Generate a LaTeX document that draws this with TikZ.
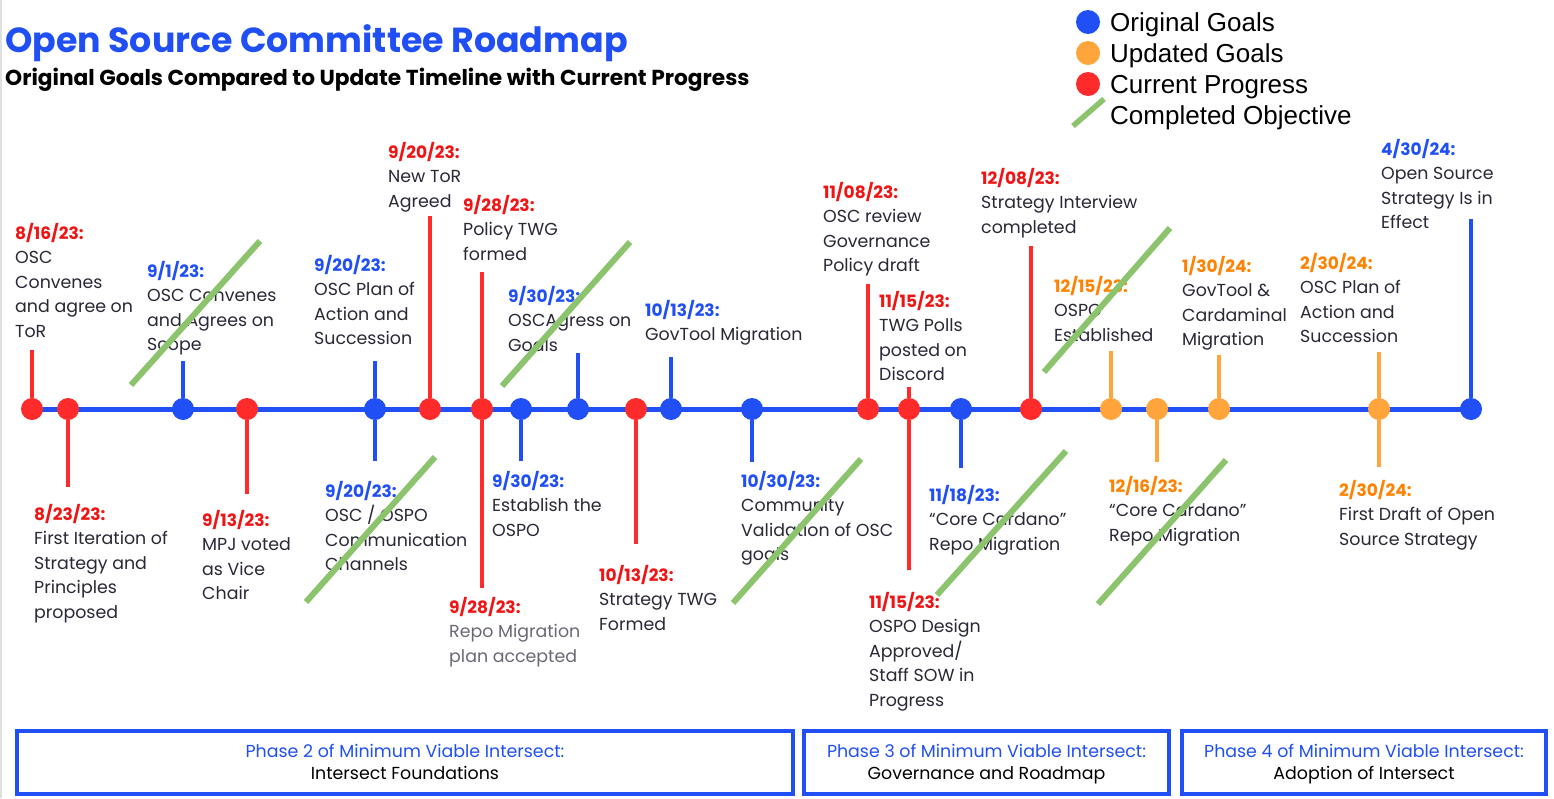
\documentclass[tikz,border=0pt]{standalone}
\usepackage{fontspec}
\setmainfont{Poppins}
\newfontfamily\legendfont{Liberation Sans}
\usetikzlibrary{positioning}

\definecolor{tlblue}{RGB}{32,80,245}
\definecolor{tlred}{RGB}{255,42,42}
\definecolor{dtred}{RGB}{240,20,20}
\definecolor{tlorange}{RGB}{255,165,60}
\definecolor{dtorange}{RGB}{255,130,0}
\definecolor{donegreen}{RGB}{140,196,110}
\definecolor{bodytext}{RGB}{40,40,55}
\definecolor{greytext}{RGB}{105,105,118}

\newcommand{\datefont}{\fontsize{17}{24.5}\selectfont\bfseries}
\newcommand{\bodyfont}{\fontsize{17.4}{24.5}\selectfont}

\begin{document}
\begin{tikzpicture}[x=1pt,y=-1pt,
    dot/.style={circle, minimum size=22pt, inner sep=0pt},
    stem/.style={line width=4.5pt},
    timeline/.style={line width=5pt, tlblue},
    strike/.style={line width=6pt, donegreen},
    evt/.style={anchor=north west, inner sep=0pt, yshift=2pt, align=left, font=\bodyfont, text=bodytext},
    phasebox/.style={draw=tlblue, line width=4pt, inner sep=0pt, minimum height=63pt, align=center, font=\fontsize{17.4}{22}\selectfont}]

    \useasboundingbox[fill=white] (0,0) rectangle (1554,798);
    \draw[black!12, line width=2pt] (1,0) -- (1,798);

    \node[anchor=base west, inner sep=0pt, text=tlblue, font=\fontsize{34.8}{40}\selectfont\bfseries] (title) at (5,52) {Open Source Committee Roadmap};
    \node[anchor=base west, inner sep=0pt, font=\fontsize{21.7}{24}\selectfont\bfseries] (subtitle) at (5,85) {Original Goals Compared to Update Timeline with Current Progress};

    \node[dot, fill=tlblue, minimum size=24pt] (lgorig) at (1088,22) {};
    \node[dot, fill=tlorange, minimum size=24pt] (lgupd) at (1088,53) {};
    \node[dot, fill=tlred, minimum size=24pt] (lgcur) at (1088,84) {};
    \coordinate (lgA) at (1073,126);
    \coordinate (lgB) at (1104,99);
    \draw[strike, line width=5.5pt] (lgA) -- (lgB);
    \node[anchor=base west, inner sep=0pt, font=\legendfont\fontsize{26}{30}\selectfont] (lgtorig) at (1110,31.5) {Original Goals};
    \node[anchor=base west, inner sep=0pt, font=\legendfont\fontsize{26}{30}\selectfont] (lgtupd) at (1110,62.5) {Updated Goals};
    \node[anchor=base west, inner sep=0pt, font=\legendfont\fontsize{26}{30}\selectfont] (lgtcur) at (1110,93) {Current Progress};
    \node[anchor=base west, inner sep=0pt, font=\legendfont\fontsize{26}{30}\selectfont] (lgtdone) at (1110,124) {Completed Objective};

    \coordinate (tlL) at (32,409);
    \coordinate (tlR) at (1471,409);
    \draw[timeline] (tlL) -- (tlR);

    \node[dot, fill=tlred] (d1) at (32,409) {};
    \node[dot, fill=tlred] (d2) at (68,409) {};
    \node[dot, fill=tlblue] (d3) at (183,409) {};
    \node[dot, fill=tlred] (d4) at (247,409) {};
    \node[dot, fill=tlblue] (d5) at (375,409) {};
    \node[dot, fill=tlred] (d6) at (430,409) {};
    \node[dot, fill=tlred] (d7) at (482,409) {};
    \node[dot, fill=tlblue] (d8) at (521,409) {};
    \node[dot, fill=tlblue] (d9) at (578,409) {};
    \node[dot, fill=tlred] (d10) at (636,409) {};
    \node[dot, fill=tlblue] (d11) at (671,409) {};
    \node[dot, fill=tlblue] (d12) at (752,409) {};
    \node[dot, fill=tlred] (d13) at (868,409) {};
    \node[dot, fill=tlred] (d14) at (909,409) {};
    \node[dot, fill=tlblue] (d15) at (961,409) {};
    \node[dot, fill=tlred] (d16) at (1031,409) {};
    \node[dot, fill=tlorange] (d17) at (1111,409) {};
    \node[dot, fill=tlorange] (d18) at (1157,409) {};
    \node[dot, fill=tlorange] (d19) at (1219,409) {};
    \node[dot, fill=tlorange] (d20) at (1379,409) {};
    \node[dot, fill=tlblue] (d21) at (1471,409) {};

    \coordinate (s1) at (32,350);
    \coordinate (s2) at (68,487);
    \coordinate (s3) at (183,361);
    \coordinate (s4) at (247,494);
    \coordinate (s5u) at (375,361);
    \coordinate (s5d) at (375,461);
    \coordinate (s6) at (430,216);
    \coordinate (s7u) at (482,272);
    \coordinate (s7d) at (482,588);
    \coordinate (s8) at (521,461);
    \coordinate (s9) at (578,353);
    \coordinate (s10) at (636,544);
    \coordinate (s11) at (671,357);
    \coordinate (s12) at (752,462);
    \coordinate (s13) at (868,284);
    \coordinate (s14u) at (909,387);
    \coordinate (s14d) at (909,570);
    \coordinate (s15) at (961,468);
    \coordinate (s16) at (1031,246);
    \coordinate (s17) at (1111,351);
    \coordinate (s18) at (1157,462);
    \coordinate (s19) at (1219,355);
    \coordinate (s20u) at (1379,352);
    \coordinate (s20d) at (1379,467);
    \coordinate (s21) at (1471,219);

    \draw[stem, tlred] (d1) -- (s1);
    \draw[stem, tlred] (d2) -- (s2);
    \draw[stem, tlblue] (d3) -- (s3);
    \draw[stem, tlred] (d4) -- (s4);
    \draw[stem, tlblue] (d5) -- (s5u);
    \draw[stem, tlblue] (d5) -- (s5d);
    \draw[stem, tlred] (d6) -- (s6);
    \draw[stem, tlred] (d7) -- (s7u);
    \draw[stem, tlred] (d7) -- (s7d);
    \draw[stem, tlblue] (d8) -- (s8);
    \draw[stem, tlblue] (d9) -- (s9);
    \draw[stem, tlred] (d10) -- (s10);
    \draw[stem, tlblue] (d11) -- (s11);
    \draw[stem, tlblue] (d12) -- (s12);
    \draw[stem, tlred] (d13) -- (s13);
    \draw[stem, tlred] (d14) -- (s14u);
    \draw[stem, tlred] (d14) -- (s14d);
    \draw[stem, tlblue] (d15) -- (s15);
    \draw[stem, tlred] (d16) -- (s16);
    \draw[stem, tlorange] (d17) -- (s17);
    \draw[stem, tlorange] (d18) -- (s18);
    \draw[stem, tlorange] (d19) -- (s19);
    \draw[stem, tlorange] (d20) -- (s20u);
    \draw[stem, tlorange] (d20) -- (s20d);
    \draw[stem, tlblue] (d21) -- (s21);

    \node[evt] (l1) at (15,225) {{\color{dtred}\datefont 8/16/23:}\\OSC\\Convenes\\and agree on\\ToR};
    \node[evt] (l2) at (34,506) {{\color{dtred}\datefont 8/23/23:}\\First Iteration of\\Strategy and\\Principles\\proposed};
    \node[evt] (l3) at (147,263) {{\color{tlblue}\datefont 9/1/23:}\\OSC Convenes\\and Agrees on\\Scope};
    \node[evt] (l4) at (202,512) {{\color{dtred}\datefont 9/13/23:}\\MPJ voted\\as Vice\\Chair};
    \node[evt] (l5u) at (314,257) {{\color{tlblue}\datefont 9/20/23:}\\OSC Plan of\\Action and\\Succession};
    \node[evt] (l5d) at (325,483) {{\color{tlblue}\datefont 9/20/23:}\\OSC / OSPO\\Communication\\Channels};
    \node[evt] (l6) at (388,144) {{\color{dtred}\datefont 9/20/23:}\\New ToR\\Agreed};
    \node[evt] (l7u) at (463,197) {{\color{dtred}\datefont 9/28/23:}\\Policy TWG\\formed};
    \node[evt, text=greytext] (l7d) at (449,599) {{\color{dtred}\datefont 9/28/23:}\\Repo Migration\\plan accepted};
    \node[evt] (l8) at (492,473) {{\color{tlblue}\datefont 9/30/23:}\\Establish the\\OSPO};
    \node[evt] (l9) at (508,288) {{\color{tlblue}\datefont 9/30/23:}\\OSCAgress on\\Goals};
    \node[evt] (l10) at (599,567) {{\color{dtred}\datefont 10/13/23:}\\Strategy TWG\\Formed};
    \node[evt] (l11) at (645,302) {{\color{tlblue}\datefont 10/13/23:}\\GovTool Migration};
    \node[evt] (l12) at (741,473) {{\color{tlblue}\datefont 10/30/23:}\\Community\\Validation of OSC\\goals};
    \node[evt] (l13) at (823,184) {{\color{dtred}\datefont 11/08/23:}\\OSC review\\Governance\\Policy draft};
    \node[evt] (l14u) at (879,293) {{\color{dtred}\datefont 11/15/23:}\\TWG Polls\\posted on\\Discord};
    \node[evt] (l14d) at (869,594) {{\color{dtred}\datefont 11/15/23:}\\OSPO Design\\Approved/\\Staff SOW in\\Progress};
    \node[evt] (l15) at (929,487) {{\color{tlblue}\datefont 11/18/23:}\\“Core Cardano”\\Repo Migration};
    \node[evt] (l16) at (981,170) {{\color{dtred}\datefont 12/08/23:}\\Strategy Interview\\completed};
    \node[evt] (l17) at (1054,278) {{\color{dtorange}\datefont 12/15/23:}\\OSPO\\Established};
    \node[evt] (l18) at (1109,478) {{\color{dtorange}\datefont 12/16/23:}\\“Core Cardano”\\Repo Migration};
    \node[evt] (l19) at (1182,258) {{\color{dtorange}\datefont 1/30/24:}\\GovTool \&\\Cardaminal\\Migration};
    \node[evt] (l20u) at (1300,255) {{\color{dtorange}\datefont 2/30/24:}\\OSC Plan of\\Action and\\Succession};
    \node[evt] (l20d) at (1339,482) {{\color{dtorange}\datefont 2/30/24:}\\First Draft of Open\\Source Strategy};
    \node[evt] (l21) at (1381,141) {{\color{tlblue}\datefont 4/30/24:}\\Open Source\\Strategy Is in\\Effect};

    \draw[strike] (131,385) -- (260,241);
    \draw[strike] (502,386) -- (630,242);
    \draw[strike] (1044,372) -- (1170,228);
    \draw[strike] (306,602) -- (435,457);
    \draw[strike] (733,603) -- (861,459);
    \draw[strike] (937,595) -- (1066,451);
    \draw[strike] (1098,604) -- (1226,460);

    \node[phasebox, minimum width=776pt] (ph2) at (405,762.5) {\rule{0pt}{19pt}{\color{tlblue}Phase 2 of Minimum Viable Intersect:}\\Intersect Foundations\strut};
    \node[phasebox, minimum width=365pt] (ph3) at (986.5,762.5) {\rule{0pt}{19pt}{\color{tlblue}Phase 3 of Minimum Viable Intersect:}\\Governance and Roadmap\strut};
    \node[phasebox, minimum width=364pt] (ph4) at (1364,762.5) {\rule{0pt}{19pt}{\color{tlblue}Phase 4 of Minimum Viable Intersect:}\\Adoption of Intersect\strut};
\end{tikzpicture}
\end{document}
